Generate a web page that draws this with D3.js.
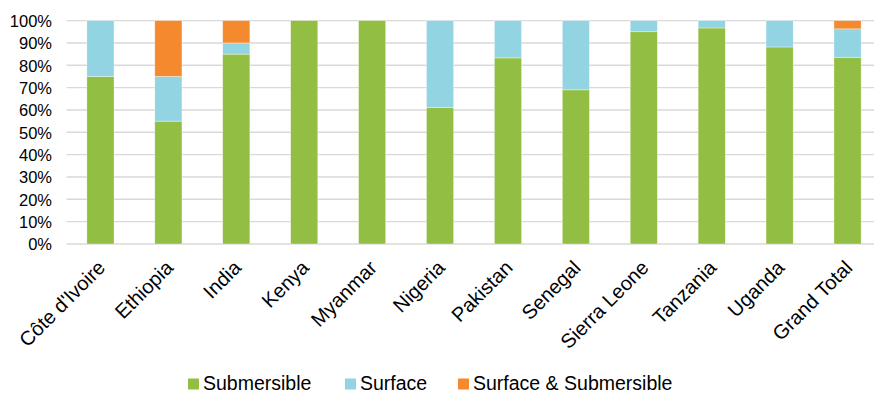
<!DOCTYPE html>
<html><head><meta charset="utf-8">
<script src="https://cdn.jsdelivr.net/npm/d3@7"></script>
<style>
body{margin:0;background:#fff;}
text{font-family:"Liberation Sans",Arial,sans-serif;fill:#000;}
</style></head>
<body><svg id="c" width="874" height="394"></svg>
<script>
const categories = ["Côte d'Ivoire","Ethiopia","India","Kenya","Myanmar","Nigeria","Pakistan","Senegal","Sierra Leone","Tanzania","Uganda","Grand Total"];
const submersible = [75, 55, 85, 100, 100, 61, 83.3, 69, 95, 96.7, 88.2, 83.6];
const surface     = [25, 20, 5, 0, 0, 39, 16.7, 31, 5, 3.3, 11.8, 12.7];
const surfaceAndSubmersible = [0, 25, 10, 0, 0, 0, 0, 0, 0, 0, 0, 3.7];
const seriesNames = ["Submersible","Surface","Surface & Submersible"];
const colors = ["#92BE43","#93D4E3","#F48A2D"];
const yTicks = [0,10,20,30,40,50,60,70,80,90,100];

const svg = d3.select("#c");
const x = d3.scaleBand().domain(categories).range([66.5, 881.5]).paddingInner(0.6).paddingOuter(0.3);
const y = d3.scaleLinear().domain([0,100]).range([244, 20.6]);

// gridlines
svg.append("g").selectAll("line").data(yTicks).join("line")
  .attr("x1", 66.5).attr("x2", 874)
  .attr("y1", d=>y(d)).attr("y2", d=>y(d))
  .attr("stroke", "#d9d9d9").attr("stroke-width", 1.4);

// y axis labels
const yAxis = d3.axisLeft(y).tickValues(yTicks).tickFormat(d=>d+"%").tickSize(0).tickPadding(0);
const ya = svg.append("g").attr("transform","translate(52,0)").call(yAxis);
ya.select(".domain").remove();
ya.selectAll("text").attr("font-size","16.5px").attr("dy","0.35em").style("font-family",'"Liberation Sans",Arial,sans-serif').attr("fill","#000");

// stacked bars
const rows = categories.map((c,i)=>({cat:c, s0:submersible[i], s1:surface[i], s2:surfaceAndSubmersible[i]}));
const stack = d3.stack().keys(["s0","s1","s2"]);
const layers = stack(rows);
svg.append("g").selectAll("g").data(layers).join("g")
  .attr("fill",(d,i)=>colors[i])
  .selectAll("rect").data(d=>d).join("rect")
  .attr("x", d=>x(d.data.cat))
  .attr("width", x.bandwidth())
  .attr("y", d=>y(d[1]))
  .attr("height", d=>Math.max(0, y(d[0])-y(d[1])))
  .attr("stroke","#fff").attr("stroke-width",0.6)
  .attr("stroke-opacity", d=> (d[1]-d[0])>0 ? 0.6 : 0);

// x labels
svg.append("g").selectAll("text").data(categories).join("text")
  .attr("transform", d=>`translate(${x(d)+x.bandwidth()/2+6},269) rotate(-45)`)
  .attr("text-anchor","end")
  .attr("font-size","20px")
  .text(d=>d);

// legend
const legX = [188, 345, 458];
const lg = svg.append("g").selectAll("g").data(seriesNames).join("g")
  .attr("transform",(d,i)=>`translate(${legX[i]},0)`);
lg.append("rect").attr("x",0).attr("y",378.5).attr("width",11).attr("height",11).attr("fill",(d,i)=>colors[i]);
lg.append("text").attr("x",15).attr("y",389.5).attr("font-size","19.5px").text(d=>d);
</script></body></html>
